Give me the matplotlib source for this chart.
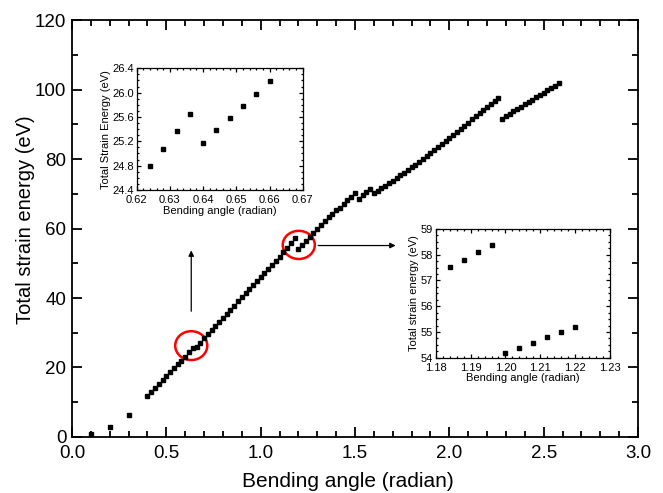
import matplotlib
matplotlib.use('Agg')
import matplotlib.pyplot as plt
from matplotlib.patches import Ellipse
from matplotlib.ticker import MultipleLocator

plt.rcParams['font.family'] = ['Liberation Sans', 'DejaVu Sans']

# Main curve: first points + lower branch (0.40 - 2.26) + upper branch (2.28 - 2.58)
angle_start = [0.10, 0.20, 0.30]
energy_start = [0.9, 2.8, 6.4]

angle_a = [0.40, 0.42, 0.44, 0.46, 0.48, 0.50, 0.52, 0.54, 0.56, 0.58,
           0.60, 0.62, 0.64, 0.66, 0.68, 0.70, 0.72, 0.74, 0.76, 0.78,
           0.80, 0.82, 0.84, 0.86, 0.88, 0.90, 0.92, 0.94, 0.96, 0.98,
           1.00, 1.02, 1.04, 1.06, 1.08, 1.10, 1.12, 1.14, 1.16, 1.18,
           1.20, 1.22, 1.24, 1.26, 1.28, 1.30, 1.32, 1.34, 1.36, 1.38,
           1.40, 1.42, 1.44, 1.46, 1.48, 1.50, 1.52, 1.54, 1.56, 1.58,
           1.60, 1.62, 1.64, 1.66, 1.68, 1.70, 1.72, 1.74, 1.76, 1.78,
           1.80, 1.82, 1.84, 1.86, 1.88, 1.90, 1.92, 1.94, 1.96, 1.98,
           2.00, 2.02, 2.04, 2.06, 2.08, 2.10, 2.12, 2.14, 2.16, 2.18,
           2.20, 2.22, 2.24, 2.26]
energy_a = [11.7, 12.9, 14.0, 15.2, 16.3, 17.5, 18.6, 19.8, 20.9, 22.0,
            23.0, 24.5, 25.7, 26.0, 27.1, 28.4, 29.6, 30.7, 31.9, 33.1,
            34.3, 35.4, 36.6, 37.8, 39.0, 40.2, 41.3, 42.5, 43.7, 44.9,
            46.0, 47.2, 48.4, 49.6, 50.7, 51.9, 53.1, 54.3, 55.7, 57.3,
            54.2, 55.3, 56.4, 57.5, 58.7, 59.8, 60.9, 62.1, 63.2, 64.3,
            65.2, 66.0, 67.1, 68.2, 69.2, 70.1, 68.5, 69.6, 70.6, 71.3,
            70.1, 70.8, 71.6, 72.3, 73.0, 73.8, 74.5, 75.3, 76.0, 76.8,
            77.6, 78.4, 79.2, 80.0, 80.8, 81.7, 82.5, 83.4, 84.2, 85.1,
            86.0, 86.9, 87.8, 88.7, 89.6, 90.5, 91.4, 92.3, 93.2, 94.1,
            95.0, 95.9, 96.8, 97.6]

angle_b = [2.28, 2.30, 2.32, 2.34, 2.36, 2.38, 2.40, 2.42, 2.44, 2.46,
           2.48, 2.50, 2.52, 2.54, 2.56, 2.58]
energy_b = [91.6, 92.3, 93.0, 93.7, 94.4, 95.1, 95.8, 96.4, 97.1, 97.8,
            98.4, 99.1, 99.8, 100.5, 101.1, 101.8]

# Inset 1 (around 0.64 rad)
ins1_angle = [0.624, 0.628, 0.632, 0.636, 0.640, 0.644, 0.648, 0.652, 0.656, 0.660]
ins1_energy = [24.80, 25.08, 25.37, 25.65, 25.17, 25.38, 25.58, 25.78, 25.98, 26.19]

# Inset 2 (around 1.20 rad)
ins2_angle = [1.184, 1.188, 1.192, 1.196, 1.200, 1.204, 1.208, 1.212, 1.216, 1.220]
ins2_energy = [57.52, 57.79, 58.09, 58.38, 54.17, 54.39, 54.58, 54.79, 55.00, 55.19]


def style_axes(ax, size, major, minor, lw, pad=3):
    ax.tick_params(which='both', direction='in', top=True, right=True,
                   width=lw, labelsize=size, pad=pad)
    ax.tick_params(which='major', length=major)
    ax.tick_params(which='minor', length=minor)
    for s in ax.spines.values():
        s.set_linewidth(lw)


fig = plt.figure(figsize=(6.63, 4.93), dpi=100)
ax = fig.add_axes([0.1086, 0.1136, 0.8537, 0.8458])

ax.plot(angle_start, energy_start, 's', color='black', ms=3.2)
ax.plot(angle_a, energy_a, 's', color='black', ms=3.2)
ax.plot(angle_b, energy_b, 's', color='black', ms=3.2)

ax.set_xlim(0, 3.0)
ax.set_ylim(0, 120)
ax.xaxis.set_major_locator(MultipleLocator(0.5))
ax.xaxis.set_minor_locator(MultipleLocator(0.1))
ax.yaxis.set_major_locator(MultipleLocator(20))
ax.yaxis.set_minor_locator(MultipleLocator(10))
ax.set_xlabel('Bending angle (radian)', fontsize=15)
ax.set_ylabel('Total strain energy (eV)', fontsize=14.5)
ax.xaxis.set_label_coords(0.487, -0.083)
ax.yaxis.set_label_coords(-0.066, 0.52)
style_axes(ax, 13.5, 7, 4, 1.3, pad=4)
ax.tick_params(axis='x', which='both', pad=6)

# red circles around the two kinks
c1x = sum(ins1_angle) / len(ins1_angle)
c1y = sum(ins1_energy) / len(ins1_energy) + 0.8
c2x = (ins2_angle[0] + ins2_angle[-1]) / 2
c2y = (max(ins2_energy) + min(ins2_energy)) / 2
ax.add_patch(Ellipse((c1x - 0.01, c1y), 0.17, 8.3, fill=False, ec='red', lw=1.8))
ax.add_patch(Ellipse((c2x, c2y - 1.0), 0.17, 8.1, fill=False, ec='red', lw=1.8))

# arrows pointing to the insets
ax.annotate('', xy=(c1x - 0.01, 54.5), xytext=(c1x - 0.01, 35.4),
            arrowprops=dict(arrowstyle='-|>', color='black', lw=0.9,
                            mutation_scale=8))
ax.annotate('', xy=(1.73, 55.1), xytext=(1.29, 55.1),
            arrowprops=dict(arrowstyle='-|>', color='black', lw=0.9,
                            mutation_scale=8))

# inset 1
ax1 = fig.add_axes([0.2062, 0.6146, 0.2504, 0.2469])
ax1.plot(ins1_angle, ins1_energy, 's', color='black', ms=2.3)
ax1.set_xlim(0.62, 0.67)
ax1.set_ylim(24.4, 26.4)
ax1.xaxis.set_major_locator(MultipleLocator(0.01))
ax1.xaxis.set_minor_locator(MultipleLocator(0.002))
ax1.yaxis.set_major_locator(MultipleLocator(0.4))
ax1.yaxis.set_minor_locator(MultipleLocator(0.1))
ax1.xaxis.set_major_formatter(plt.FormatStrFormatter('%.2f'))
ax1.yaxis.set_major_formatter(plt.FormatStrFormatter('%.1f'))
ax1.set_xlabel('Bending angle (radian)', fontsize=8, labelpad=1)
ax1.set_ylabel('Total Strain Energy (eV)', fontsize=8, labelpad=1)
style_axes(ax1, 8, 3, 1.5, 0.9, pad=2)
ax1.tick_params(axis='x', which='both', pad=3.5)

# inset 2
ax2 = fig.add_axes([0.6572, 0.2744, 0.2629, 0.2611])
ax2.plot(ins2_angle, ins2_energy, 's', color='black', ms=2.3)
ax2.set_xlim(1.18, 1.23)
ax2.set_ylim(54, 59)
ax2.xaxis.set_major_locator(MultipleLocator(0.01))
ax2.xaxis.set_minor_locator(MultipleLocator(0.002))
ax2.yaxis.set_major_locator(MultipleLocator(1))
ax2.yaxis.set_minor_locator(MultipleLocator(0.25))
ax2.xaxis.set_major_formatter(plt.FormatStrFormatter('%.2f'))
ax2.set_xlabel('Bending angle (radian)', fontsize=8, labelpad=0)
ax2.set_ylabel('Total strain energy (eV)', fontsize=8, labelpad=1)
style_axes(ax2, 8, 3, 1.5, 0.9, pad=2)
ax2.tick_params(axis='x', which='both', pad=3.5)

fig.savefig('out.png', dpi=100)
